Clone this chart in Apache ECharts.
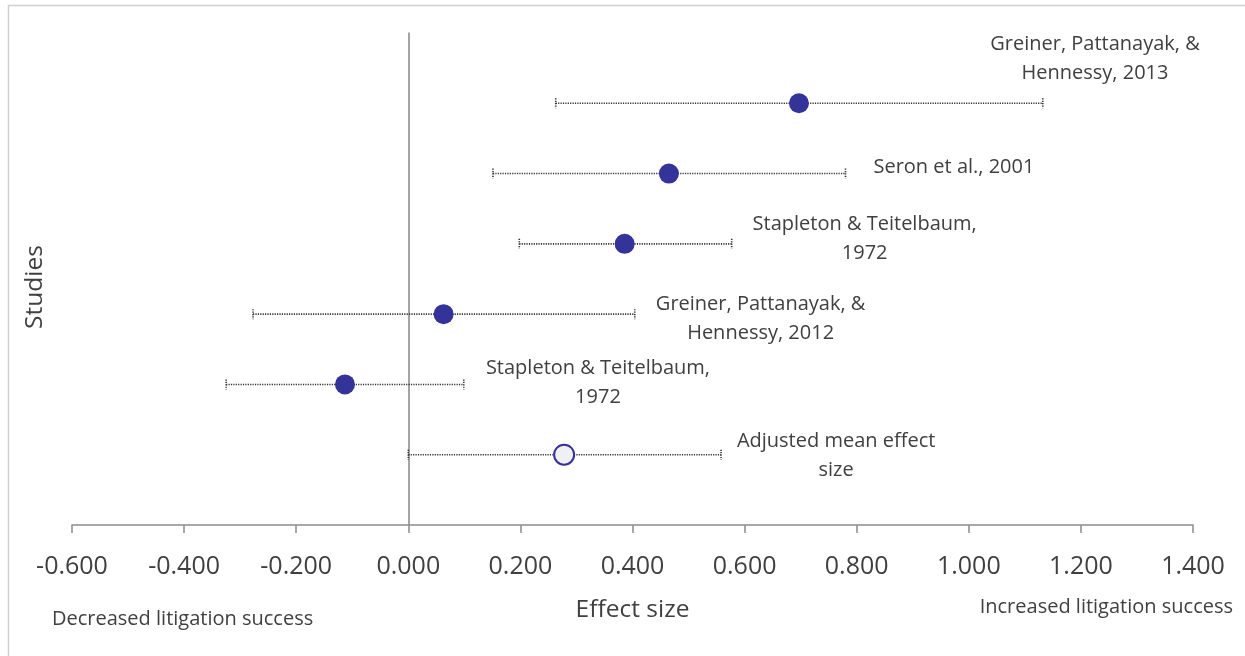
<!DOCTYPE html>
<html>
<head>
<meta charset="utf-8">
<script src="https://cdn.jsdelivr.net/npm/echarts@6/dist/echarts.min.js"></script>
<style>
html,body{margin:0;padding:0;background:#fff;}
#chart{width:1245px;height:656px;}
</style>
</head>
<body>
<div id="chart"></div>
<script>
// ---- Data (bottom row first) ----
var studyLabels = [
  'Adjusted mean effect\nsize',
  'Stapleton & Teitelbaum,\n1972',
  'Greiner, Pattanayak, &\nHennessy, 2012',
  'Stapleton & Teitelbaum,\n1972',
  'Seron et al., 2001',
  'Greiner, Pattanayak, &\nHennessy, 2013'
];
var rowPositions = [1, 2, 3, 4, 5, 6];
var effectSizes = [0.278, -0.113, 0.063, 0.386, 0.465, 0.697];
var lowerCI = [0.000, -0.325, -0.277, 0.198, 0.151, 0.263];
var upperCI = [0.558, 0.099, 0.404, 0.577, 0.780, 1.132];
var xTickValues = [-0.6, -0.4, -0.2, 0, 0.2, 0.4, 0.6, 0.8, 1.0, 1.2, 1.4];

// ---- Layout (label placement offsets in px from each point, text centre) ----
var labelOffsets = [[272, 1], [253, -2], [317, 5], [240, -5], [285, -6], [296, -44]];

var FONT = '"Open Sans", "Noto Sans", sans-serif';
var TXT = '#404040';
var chart = echarts.init(document.getElementById('chart'), null, {renderer: 'canvas'});

var errData = rowPositions.map(function (r, i) { return [r, lowerCI[i], upperCI[i], effectSizes[i]]; });
var ptData = rowPositions.map(function (r, i) {
  var d = {value: [effectSizes[i], r]};
  if (i === 0) d.itemStyle = {color: '#f0f0f2', borderColor: '#333399', borderWidth: 2};
  return d;
});

var option = {
  animation: false,
  backgroundColor: '#fff',
  grid: {left: 72, right: 52, top: 33, bottom: 131},
  xAxis: {
    type: 'value', min: -0.6, max: 1.4, interval: 0.2,
    splitLine: {show: false},
    axisLine: {lineStyle: {color: '#8c8c8c', width: 1.5}},
    axisTick: {length: 8, lineStyle: {color: '#8c8c8c', width: 1.5}},
    axisLabel: {
      margin: 29, color: TXT, fontFamily: FONT, fontSize: 25,
      formatter: function (v) { return v.toFixed(3); }
    },
    name: 'Effect size', nameLocation: 'middle', nameGap: 73,
    nameTextStyle: {color: TXT, fontFamily: FONT, fontSize: 24.5}
  },
  yAxis: {
    type: 'value', min: 0, max: 7,
    splitLine: {show: false},
    axisLine: {show: true, onZero: true, lineStyle: {color: '#868686', width: 1.5}},
    axisTick: {show: false},
    axisLabel: {show: false}
  },
  graphic: [
    {type: 'rect', left: 6, top: 3, shape: {width: 1300, height: 700}, style: {fill: null, stroke: '#d0d0d0', lineWidth: 1.5}, silent: true},
    {type: 'text', x: 35, y: 287, rotation: Math.PI / 2,
     style: {text: 'Studies', font: '24.5px ' + FONT, fill: TXT, align: 'center', verticalAlign: 'middle'}},
    {type: 'text', x: 52, y: 619,
     style: {text: 'Decreased litigation success', font: '20px ' + FONT, fill: TXT, align: 'left', verticalAlign: 'middle'}},
    {type: 'text', x: 1233, y: 607,
     style: {text: 'Increased litigation success', font: '20px ' + FONT, fill: TXT, align: 'right', verticalAlign: 'middle'}}
  ],
  series: [
    {
      type: 'custom',
      data: errData,
      encode: {x: [1, 2, 3], y: 0},
      z: 2,
      renderItem: function (params, api) {
        var y = api.value(0), lo = api.value(1), hi = api.value(2), eff = api.value(3);
        var p0 = api.coord([lo, y]), p1 = api.coord([hi, y]), pc = api.coord([eff, y]);
        var st = {stroke: '#333333', lineWidth: 1.6, lineDash: [1.2, 1.2], fill: null};
        var off = labelOffsets[params.dataIndex];
        return {
          type: 'group',
          children: [
            {type: 'line', shape: {x1: p0[0], y1: p0[1], x2: p1[0], y2: p1[1]}, style: st},
            {type: 'line', shape: {x1: p0[0], y1: p0[1] - 5, x2: p0[0], y2: p0[1] + 5}, style: st},
            {type: 'line', shape: {x1: p1[0], y1: p1[1] - 5, x2: p1[0], y2: p1[1] + 5}, style: st},
            {type: 'text', x: pc[0] + off[0], y: pc[1] + off[1],
             style: {text: studyLabels[params.dataIndex], font: '20px ' + FONT, fill: TXT,
                     align: 'center', verticalAlign: 'middle', lineHeight: 29}}
          ]
        };
      }
    },
    {
      type: 'scatter',
      data: ptData,
      symbol: 'circle',
      symbolSize: 20,
      z: 3,
      itemStyle: {color: '#333399', opacity: 1}
    }
  ]
};
chart.setOption(option);
</script>
</body>
</html>
